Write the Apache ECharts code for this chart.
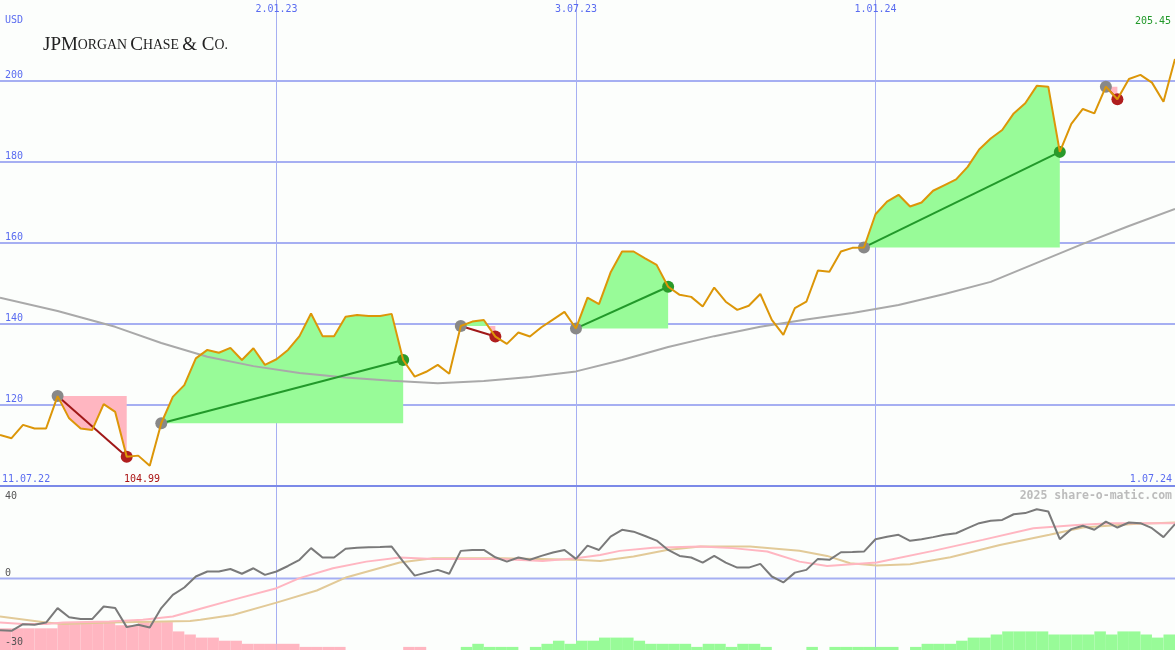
<!DOCTYPE html>
<html><head><meta charset="utf-8">
<script src="https://cdn.jsdelivr.net/npm/echarts@6/dist/echarts.min.js"></script>
<style>html,body{margin:0;padding:0;background:#fcfefc}#c{width:1175px;height:650px}</style>
</head><body><div id="c"></div>
<script>
// ---------- data ----------
const firstWeek = '2022-07-18';           // week 0 of the plotted period
const startLabel = '11.07.22';
const endLabel = '1.07.24';
const topTicks = ['2.01.23', '3.07.23', '1.01.24'];
const currency = 'USD';

// weekly closing prices, weeks 0..102
const price = [112.6,111.8,115.1,114.2,114.2,122.2,116.7,114.2,113.8,120.2,
  118.3,107.2,107.5,104.99,115.5,122.0,124.9,131.5,133.6,132.9,
  134.1,131.1,134.0,129.9,131.3,133.6,137.0,142.6,137.0,137.0,
  141.8,142.2,142.0,142.0,142.5,131.1,127.0,128.2,129.9,127.7,
  139.5,140.6,141.0,136.9,135.1,137.9,136.9,139.2,141.1,143.0,
  138.9,146.5,144.9,152.7,157.9,157.9,156.2,154.6,149.2,147.2,
  146.7,144.3,149.0,145.5,143.5,144.5,147.4,141.0,137.3,143.9,
  145.5,153.2,152.9,157.9,158.8,158.9,167.1,170.2,171.9,169.0,
  170.0,172.9,174.3,175.7,178.8,183.1,185.8,187.9,192.0,194.5,
  198.8,198.6,182.5,189.4,193.1,192.0,198.6,195.5,200.5,201.5,
  199.6,194.9,205.45];

// long moving average (read at sample weeks)
const maWeeks  = [0,5,10,14,18,22,26,30,34,38,42,46,50,54,58,62,66,70,74,78,82,86,90,94,98,102];
const maValues = [146.5,143.2,139.3,135.3,131.9,129.6,127.9,126.8,126.0,125.4,125.9,126.9,128.3,131.1,134.3,137.0,139.3,141.1,142.7,144.7,147.4,150.4,155.1,159.8,164.2,168.4];

// trades (week index of entry / exit)
const tradeEntry = [5, 14, 40, 50, 75, 96];
const tradeExit  = [11, 35, 43, 58, 92, 97];

// lower panel: oscillator, weeks 0..102
const osc = [-22.6,-22.8,-19.9,-20.2,-19.2,-12.9,-16.9,-17.7,-17.7,-12.2,
  -12.9,-21.2,-20.2,-21.4,-12.9,-7.1,-3.9,0.9,3.1,3.1,
  4.2,2.1,4.5,1.6,3.1,5.5,8.2,13.3,9.2,9.2,
  13.0,13.5,13.7,13.8,14.0,7.4,1.3,2.6,3.8,2.1,
  12.1,12.5,12.5,9.3,7.4,9.2,8.2,9.9,11.4,12.5,
  8.6,14.4,12.5,18.3,21.3,20.5,18.6,16.6,12.5,9.9,
  9.2,7.0,9.9,7.0,4.8,4.8,6.4,0.9,-1.7,2.6,
  3.8,8.6,8.2,11.5,11.6,11.8,17.2,18.3,19.1,16.5,
  17.2,18.1,19.1,19.8,22.0,24.2,25.3,25.6,28.1,28.6,
  30.3,29.3,17.2,21.6,23.1,21.3,24.9,22.3,24.5,24.2,
  22.0,18.1,23.8];
// signal lines (read at sample weeks)
const pinkWeeks  = [0,2,4,5.5,9.5,12.4,15,17.4,20.2,24,26,28.9,31.8,34.7,37.6,43.4,47.1,50,52.1,53.8,56.7,60.8,63.6,66.6,69.4,71.8,76.1,81,85.3,89.7,93.5,96.4,102];
const pinkValues = [-19.2,-19.8,-19.8,-19.2,-18.8,-18.0,-16.6,-13.2,-9.3,-4.2,0.2,4.5,7.4,9.2,8.6,8.6,7.7,8.9,10.3,12.1,13.5,14.0,13.3,11.8,7.4,5.5,7.0,12.1,16.9,22.0,23.4,24.2,24.2];
const tanWeeks  = [0,4,5.5,9.5,16.5,17.4,20.2,24,27.5,30.1,34.7,37.6,43.4,50,52.1,55,57.9,60.8,65.1,69.4,71.8,73.8,76.1,79,82.5,86.8,91.1,94,98.4,102];
const tanValues = [-16.6,-19.2,-19.8,-19.2,-18.5,-18.0,-15.9,-10.5,-5.2,0.6,7.0,8.9,8.9,8.2,7.7,9.6,12.5,14.0,14.0,12.2,9.9,6.7,5.7,6.3,9.3,14.7,19.1,22.3,23.8,24.5];
// weekly histogram (weeks 0..101), negative = pink, positive = green
const hist = [-7,-7,-7,-7,-7,-9,-9,-9,-9,-9,
  -8,-8,-9,-9,-9,-6,-5,-4,-4,-3,
  -3,-2,-2,-2,-2,-2,-1,-1,-1,-1,
  0,0,0,0,0,-1,-1,0,0,0,
  1,2,1,1,1,0,1,2,3,2,
  3,3,4,4,4,3,2,2,2,2,
  1,2,2,1,2,2,1,0,0,0,
  1,0,1,1,1,1,1,1,0,1,
  2,2,2,3,4,4,5,6,6,6,
  6,5,5,5,5,6,5,6,6,5,
  4,5];

// ---------- build ----------
const pad = n => (n < 10 ? '0' : '') + n;
const t0 = Date.parse(firstWeek + 'T00:00:00Z');
const dates = price.map((_, i) => {
  const d = new Date(t0 + i * 7 * 864e5);
  return d.getUTCDate() + '.' + pad(d.getUTCMonth() + 1) + '.' + String(d.getUTCFullYear()).slice(2);
});
const isTick = (idx, val) => topTicks.indexOf(val) >= 0;
const weekIdx = price.map((_, i) => i);

const BLUE_TXT = '#5a6cf0', GRID = '#a6aff2', MONO = 'DejaVu Sans Mono';

function tradeFill(params, api) {
  const k = params.dataIndex, s = tradeEntry[k], e = tradeExit[k], lvl = price[s];
  const pts = [[s, price[s]]];
  for (let i = s; i < e; i++) {
    const a = price[i] - lvl, b = price[i + 1] - lvl;
    if (a * b < 0) pts.push([i + a / (a - b), lvl]);
    pts.push([i + 1, price[i + 1]]);
  }
  const poly = fn => {
    const p = pts.map(q => api.coord([q[0], fn(q[1], lvl)]));
    p.push(api.coord([e, lvl]));
    p.push(api.coord([s, lvl]));
    return p;
  };
  return { type: 'group', children: [
    { type: 'polygon', shape: { points: poly(Math.max) }, style: { fill: '#98fb98' } },
    { type: 'polygon', shape: { points: poly(Math.min) }, style: { fill: '#ffb6c1' } }
  ]};
}
function tradeMarks(params, api) {
  const k = params.dataIndex, s = tradeEntry[k], e = tradeExit[k];
  const p0 = api.coord([s, price[s]]), p1 = api.coord([e, price[e]]);
  const win = price[e] > price[s];
  return { type: 'group', children: [
    { type: 'line', shape: { x1: p0[0], y1: p0[1], x2: p1[0], y2: p1[1] },
      style: { stroke: win ? '#22992a' : '#a01818', lineWidth: 2 } },
    { type: 'circle', shape: { cx: p0[0], cy: p0[1], r: 6 }, style: { fill: '#888888' } },
    { type: 'circle', shape: { cx: p1[0], cy: p1[1], r: 6 }, style: { fill: win ? '#2a9a2a' : '#b01e1e' } }
  ]};
}

const minPrice = Math.min.apply(null, price).toFixed(2);
const lastPrice = price[price.length - 1].toFixed(2);
const txt = (o) => Object.assign({ type: 'text', z: 50, silent: true }, o);

const option = {
  animation: false,
  backgroundColor: '#fcfefc',
  grid: [
    { left: 0, right: 0, top: 0, height: 486 },
    { left: 0, right: 0, top: 487, bottom: 0 }
  ],
  xAxis: [
    { type: 'value', gridIndex: 0, min: 0, max: 102, position: 'bottom',
      axisLine: { show: true, onZero: false, lineStyle: { color: '#7b8ae8', width: 2 } },
      axisTick: { show: false }, axisLabel: { show: false }, splitLine: { show: false } },
    { type: 'category', gridIndex: 0, data: dates, boundaryGap: false, position: 'top',
      axisLine: { show: false }, axisTick: { show: false },
      axisLabel: { inside: true, interval: isTick, margin: 4, color: BLUE_TXT, fontSize: 10, fontFamily: MONO },
      splitLine: { show: true, interval: isTick, lineStyle: { color: GRID, width: 1 } } },
    { type: 'value', gridIndex: 1, min: 0, max: 102, show: false },
    { type: 'category', gridIndex: 1, data: dates, boundaryGap: false,
      axisLine: { show: false }, axisTick: { show: false }, axisLabel: { show: false },
      splitLine: { show: true, interval: isTick, lineStyle: { color: GRID, width: 1 } } },
    { type: 'category', gridIndex: 1, data: dates.slice(0, hist.length), boundaryGap: true, show: false }
  ],
  yAxis: [
    { type: 'value', gridIndex: 0, min: 100, max: 220, interval: 20,
      axisLine: { show: false }, axisTick: { show: false },
      axisLabel: { inside: true, showMinLabel: false, showMaxLabel: false, verticalAlign: 'bottom',
        margin: 5, color: BLUE_TXT, fontSize: 10, fontFamily: MONO, padding: [0, 0, 1, 0] },
      splitLine: { show: true, showMinLine: false, showMaxLine: false, lineStyle: { color: GRID, width: 2 } } },
    { type: 'value', gridIndex: 1, min: -31.2, max: 40, show: false, splitLine: { show: false } },
    { type: 'value', gridIndex: 1, min: 0, max: 52.6, show: false, splitLine: { show: false } }
  ],
  series: [
    { type: 'custom', xAxisIndex: 0, yAxisIndex: 0, z: 1, renderItem: tradeFill, silent: true,
      data: tradeEntry.map(s => [s, price[s]]) },
    { type: 'line', xAxisIndex: 0, yAxisIndex: 0, z: 2, showSymbol: false, silent: true,
      data: maWeeks.map((w, i) => [w, maValues[i]]), lineStyle: { color: '#a9a9a9', width: 2 } },
    { type: 'custom', xAxisIndex: 0, yAxisIndex: 0, z: 3, renderItem: tradeMarks, silent: true,
      data: tradeEntry.map(s => [s, price[s]]) },
    { type: 'line', xAxisIndex: 0, yAxisIndex: 0, z: 4, showSymbol: false, silent: true,
      data: weekIdx.map(i => [i, price[i]]), lineStyle: { color: '#dc9608', width: 2 } },
    { type: 'bar', xAxisIndex: 4, yAxisIndex: 2, z: 1, silent: true, barCategoryGap: 0, barWidth: '100%',
      data: hist.map(v => ({ value: Math.abs(v), itemStyle: { color: v < 0 ? '#ffb6c1' : '#98fb98' } })) },
    { type: 'line', xAxisIndex: 2, yAxisIndex: 1, z: 2, showSymbol: false, silent: true,
      data: tanWeeks.map((w, i) => [w, tanValues[i]]), lineStyle: { color: '#e2ca98', width: 2 } },
    { type: 'line', xAxisIndex: 2, yAxisIndex: 1, z: 3, showSymbol: false, silent: true,
      data: pinkWeeks.map((w, i) => [w, pinkValues[i]]), lineStyle: { color: '#ffb6c1', width: 2 } },
    { type: 'line', xAxisIndex: 2, yAxisIndex: 1, z: 4, showSymbol: false, silent: true,
      data: weekIdx.map(i => [i, osc[i]]), lineStyle: { color: '#7a7a7a', width: 2 } },
    // zero reference line of the oscillator
    { type: 'line', xAxisIndex: 2, yAxisIndex: 1, z: 1, showSymbol: false, silent: true,
      data: [[0, 0], [102, 0]], lineStyle: { color: GRID, width: 2 } }
  ],
  graphic: [
    txt({ left: 5, top: 15, style: { text: currency, fill: BLUE_TXT, font: '10px "DejaVu Sans Mono"' } }),
    txt({ left: 43, top: 36, style: {
      text: '{a|JPM}{b|ORGAN} {a|C}{b|HASE} {a|& C}{b|O.}',
      rich: {
        a: { fontFamily: 'Liberation Serif', fontSize: 19, fill: '#222' },
        b: { fontFamily: 'Liberation Serif', fontSize: 13.8, fill: '#222' }
      } } }),
    txt({ left: 2, top: 474, style: { text: startLabel, fill: BLUE_TXT, font: '10px "DejaVu Sans Mono"' } }),
    txt({ left: 124, top: 474, style: { text: minPrice, fill: '#aa1414', font: '10px "DejaVu Sans Mono"' } }),
    txt({ right: 3, top: 474, style: { text: endLabel, fill: BLUE_TXT, font: '10px "DejaVu Sans Mono"' } }),
    txt({ right: 4, top: 16, style: { text: lastPrice, fill: '#22992a', font: '10px "DejaVu Sans Mono"' } }),
    txt({ right: 3, top: 490, style: { text: '2025 share-o-matic.com', fill: '#bcbcbc', font: 'bold 11.5px "DejaVu Sans Mono"' } }),
    txt({ left: 5, top: 491, style: { text: '40', fill: '#555', font: '10px "DejaVu Sans Mono"' } }),
    txt({ left: 5, top: 568, style: { text: '0', fill: '#555', font: '10px "DejaVu Sans Mono"' } }),
    txt({ left: 5, top: 637, style: { text: '-30', fill: '#555', font: '10px "DejaVu Sans Mono"' } })
  ]
};
const chart = echarts.init(document.getElementById('c'), null, { renderer: 'canvas' });
chart.setOption(option);
</script></body></html>
